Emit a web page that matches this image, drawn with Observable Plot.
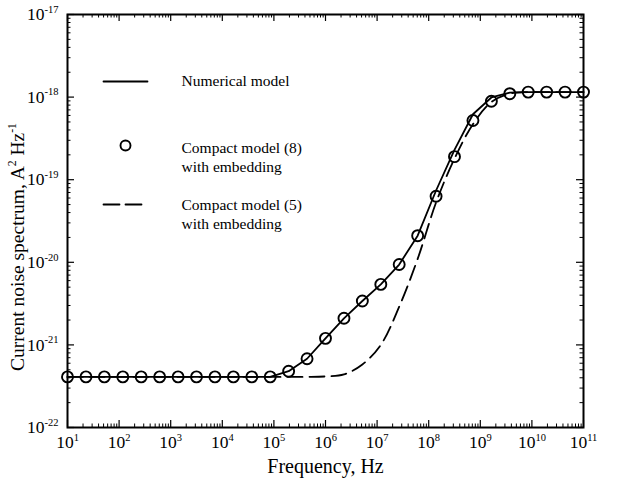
<!DOCTYPE html>
<html><head><meta charset="utf-8">
<script src="https://cdn.jsdelivr.net/npm/d3@7"></script>
<script src="https://cdn.jsdelivr.net/npm/@observablehq/plot@0.6"></script>
<style>body{margin:0;background:#fff}</style>
</head><body><div id="chart"></div>
<script>
// Frequencies (Hz), log-spaced sample points
const freq = [10, 22.8, 51.8, 118, 268, 611, 1390, 3160, 7200, 16400, 37300, 84800,
  193000, 439000, 1e6, 2.28e6, 5.18e6, 1.18e7, 2.68e7, 6.11e7, 1.39e8, 3.16e8, 7.2e8,
  1.64e9, 3.73e9, 8.48e9, 1.93e10, 4.39e10, 1e11];
// Numerical model (solid line)
const numerical = [4.1e-22, 4.1e-22, 4.1e-22, 4.1e-22, 4.1e-22, 4.1e-22, 4.1e-22, 4.1e-22,
  4.1e-22, 4.1e-22, 4.1e-22, 4.1e-22, 4.8e-22, 6.8e-22, 1.2e-21, 2.1e-21, 3.4e-21, 5.4e-21,
  9.4e-21, 2.1e-20, 7.4e-20, 2.3e-19, 6.2e-19, 9.9e-19, 1.13e-18, 1.15e-18, 1.15e-18, 1.15e-18, 1.15e-18];
// Compact model (8) with embedding (circles)
const compact8 = [4.1e-22, 4.1e-22, 4.1e-22, 4.1e-22, 4.1e-22, 4.1e-22, 4.1e-22, 4.1e-22,
  4.1e-22, 4.1e-22, 4.1e-22, 4.1e-22, 4.8e-22, 6.8e-22, 1.2e-21, 2.1e-21, 3.4e-21, 5.4e-21,
  9.4e-21, 2.1e-20, 6.3e-20, 1.9e-19, 5.2e-19, 8.9e-19, 1.1e-18, 1.15e-18, 1.15e-18, 1.15e-18, 1.15e-18];
// Compact model (5) with embedding (dashed)
const compact5 = [4.1e-22, 4.1e-22, 4.1e-22, 4.1e-22, 4.1e-22, 4.1e-22, 4.1e-22, 4.1e-22,
  4.1e-22, 4.1e-22, 4.1e-22, 4.1e-22, 4.1e-22, 4.1e-22, 4.15e-22, 4.4e-22, 5.8e-22, 1.0e-21,
  2.9e-21, 1.1e-20, 5.3e-20, 1.8e-19, 4.7e-19, 8.7e-19, 1.1e-18, 1.15e-18, 1.15e-18, 1.15e-18, 1.15e-18];

// Axis ticks
const xExp = [1, 2, 3, 4, 5, 6, 7, 8, 9, 10, 11];
const yExp = [-22, -21, -20, -19, -18, -17];
const minorMult = [2, 3, 4, 5, 6, 7, 8, 9];
const xLabel = "Frequency, Hz";
const yLabel = "Current noise spectrum, A^{2} Hz^{-1}";
const legendLabels = ["Numerical model", "Compact model (8)\nwith embedding", "Compact model (5)\nwith embedding"];

const xMajor = xExp.map(e => 10 ** e);
const yMajor = yExp.map(e => 10 ** e);
const xMinor = xExp.slice(0, -1).flatMap(e => minorMult.map(m => m * 10 ** e));
const yMinor = yExp.slice(0, -1).flatMap(e => minorMult.map(m => m * 10 ** e));
const rows = freq.map((f, i) => ({f, num: numerical[i], c8: compact8[i], c5: compact5[i]}));

const W = 640, H = 480, mt = 14, mr = 57, mb = 53, ml = 67;
const fw = W - ml - mr, fh = H - mt - mb;
const font = "Liberation Serif, Times New Roman, serif";
const lineShape = {draw(context, l) { context.moveTo(0, 0); context.lineTo(0, -l); }};

const chart = Plot.plot({
  width: W, height: H,
  marginTop: mt, marginRight: mr, marginBottom: mb, marginLeft: ml,
  style: {fontFamily: font, fontSize: "15px", color: "black", background: "white"},
  x: {type: "log", domain: [10, 1e11]},
  y: {type: "log", domain: [1e-22, 1e-17]},
  marks: [
    // tick marks, inward on all four sides
    Plot.tickX(xMajor, {x: d => d, insetTop: fh - 7, strokeWidth: 1.2}),
    Plot.tickX(xMajor, {x: d => d, insetBottom: fh - 7, strokeWidth: 1.2}),
    Plot.tickX(xMinor, {x: d => d, insetTop: fh - 3.5, strokeWidth: 1}),
    Plot.tickX(xMinor, {x: d => d, insetBottom: fh - 3.5, strokeWidth: 1}),
    Plot.tickY(yMajor, {y: d => d, insetRight: fw - 7, strokeWidth: 1.2}),
    Plot.tickY(yMajor, {y: d => d, insetLeft: fw - 7, strokeWidth: 1.2}),
    Plot.tickY(yMinor, {y: d => d, insetRight: fw - 3.5, strokeWidth: 1}),
    Plot.tickY(yMinor, {y: d => d, insetLeft: fw - 3.5, strokeWidth: 1}),
    Plot.axisX(xMajor, {anchor: "bottom", tickSize: 0, tickPadding: 8, fontSize: 17.5,
      tickFormat: d => "10^{" + Math.round(Math.log10(d)) + "}", label: null}),
    Plot.axisY(yMajor, {anchor: "left", tickSize: 0, tickPadding: 9, fontSize: 17.5,
      tickFormat: d => "10^{" + Math.round(Math.log10(d)) + "}", label: null}),
    Plot.text([xLabel], {frameAnchor: "bottom", dy: 39, lineAnchor: "middle", fontSize: 20}),
    Plot.text([yLabel], {frameAnchor: "left", dx: -50, dy: 26, rotate: -90, textAnchor: "middle", lineAnchor: "middle", fontSize: 19.5}),
    // data
    Plot.line(rows, {x: "f", y: "c5", stroke: "black", strokeWidth: 1.8, strokeDasharray: "15,7", curve: "catmull-rom"}),
    Plot.line(rows, {x: "f", y: "num", stroke: "black", strokeWidth: 1.8}),
    Plot.dot(rows, {x: "f", y: "c8", r: 5.5, stroke: "black", strokeWidth: 1.9, fill: "none"}),
    // legend
    Plot.vector([legendLabels[0]], {frameAnchor: "top-left", dx: 36, dy: 67, length: 44, rotate: 90, anchor: "start", shape: lineShape, stroke: "black", strokeWidth: 1.8}),
    Plot.dot([legendLabels[1]], {frameAnchor: "top-left", dx: 58, dy: 131, r: 5, stroke: "black", strokeWidth: 1.9, fill: "none"}),
    Plot.vector([legendLabels[2]], {frameAnchor: "top-left", dx: 36, dy: 190, length: 38, rotate: 90, anchor: "start", shape: lineShape, stroke: "black", strokeWidth: 1.8, strokeDasharray: "16,6"}),
    Plot.text([legendLabels[0]], {frameAnchor: "top-left", dx: 114, dy: 67, textAnchor: "start", lineAnchor: "middle", fontSize: 15.5}),
    Plot.text([legendLabels[1]], {frameAnchor: "top-left", dx: 114, dy: 141.5, textAnchor: "start", lineAnchor: "middle", fontSize: 15.5, lineHeight: 1.25}),
    Plot.text([legendLabels[2]], {frameAnchor: "top-left", dx: 114, dy: 198.5, textAnchor: "start", lineAnchor: "middle", fontSize: 15.5, lineHeight: 1.25}),
    Plot.frame({stroke: "black", strokeWidth: 2})
  ]
});

// superscripts as real tspans
function supify(svg) {
  d3.select(svg).selectAll("text").each(function() {
    if (this.querySelector("tspan")) return;
    const t = this.textContent;
    if (!t.includes("^{")) return;
    const fs = parseFloat(getComputedStyle(this).fontSize) || 15;
    const shift = fs * 0.42, supSize = fs * 0.6;
    const parts = t.split(/(\^\{[^}]*\})/).filter(s => s.length);
    const sel = d3.select(this); sel.text(null);
    let raised = false;
    for (const p of parts) {
      const m = p.match(/^\^\{(.*)\}$/);
      if (m) { sel.append("tspan").attr("dy", -shift).attr("font-size", supSize).text(m[1]); raised = true; }
      else { const ts = sel.append("tspan").text(p); if (raised) { ts.attr("dy", shift); raised = false; } }
    }
  });
}
document.getElementById("chart").appendChild(chart);
supify(chart);
</script>
</body></html>
